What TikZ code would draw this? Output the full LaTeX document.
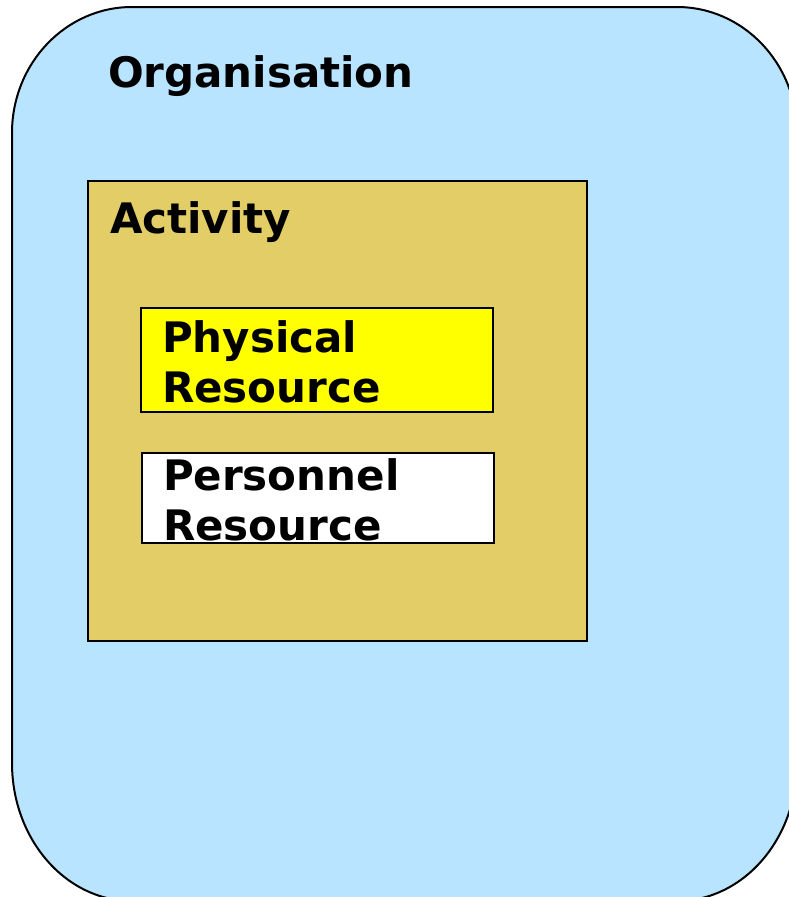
\documentclass[tikz,border=0pt]{standalone}
\usepackage{fontspec}
\setmainfont{DejaVu Sans}
\definecolor{orgblue}{RGB}{184,228,255}
\definecolor{acttan}{RGB}{226,205,102}
\definecolor{physyellow}{RGB}{255,255,0}
\tikzset{
  boxnode/.style={draw=black, line width=1.5pt, inner sep=0pt, outer sep=0pt, anchor=north west},
  lbl/.style={inner sep=0pt, outer sep=0pt, anchor=base west, font=\fontsize{42}{50}\selectfont\bfseries, text=black}
}
\begin{document}
\begin{tikzpicture}[x=1pt,y=-1pt]
\useasboundingbox (0,0) rectangle (789,897);
\begin{scope}
  \clip (0,0) rectangle (789,897);
  \draw[fill=orgblue, line width=2pt]
    (12,133) -- (12,763)
    arc[start angle=180, end angle=270, x radius=120pt, y radius=138pt]
    -- (677,901)
    arc[start angle=270, end angle=360, x radius=120pt, y radius=138pt]
    -- (797,133)
    arc[start angle=0, end angle=90, x radius=120pt, y radius=126pt]
    -- (132,7)
    arc[start angle=90, end angle=180, x radius=120pt, y radius=126pt]
    -- cycle;
\end{scope}
\node[lbl] (orglbl) at (108,87) {Organisation};
\node[boxnode, fill=acttan, minimum width=499pt, minimum height=460pt] (activity) at (88,181) {};
\node[lbl] (actlbl) at (110,233) {Activity};
\node[boxnode, fill=physyellow, minimum width=352pt, minimum height=104pt] (phys) at (141,308) {};
\node[lbl] (phys1) at (162,352) {Physical};
\node[lbl] (phys2) at (162,402) {Resource};
\node[boxnode, fill=white, minimum width=352pt, minimum height=90pt] (pers) at (142,453) {};
\node[lbl] (pers1) at (163,490) {Personnel};
\node[lbl] (pers2) at (163,540) {Resource};
\end{tikzpicture}
\end{document}
